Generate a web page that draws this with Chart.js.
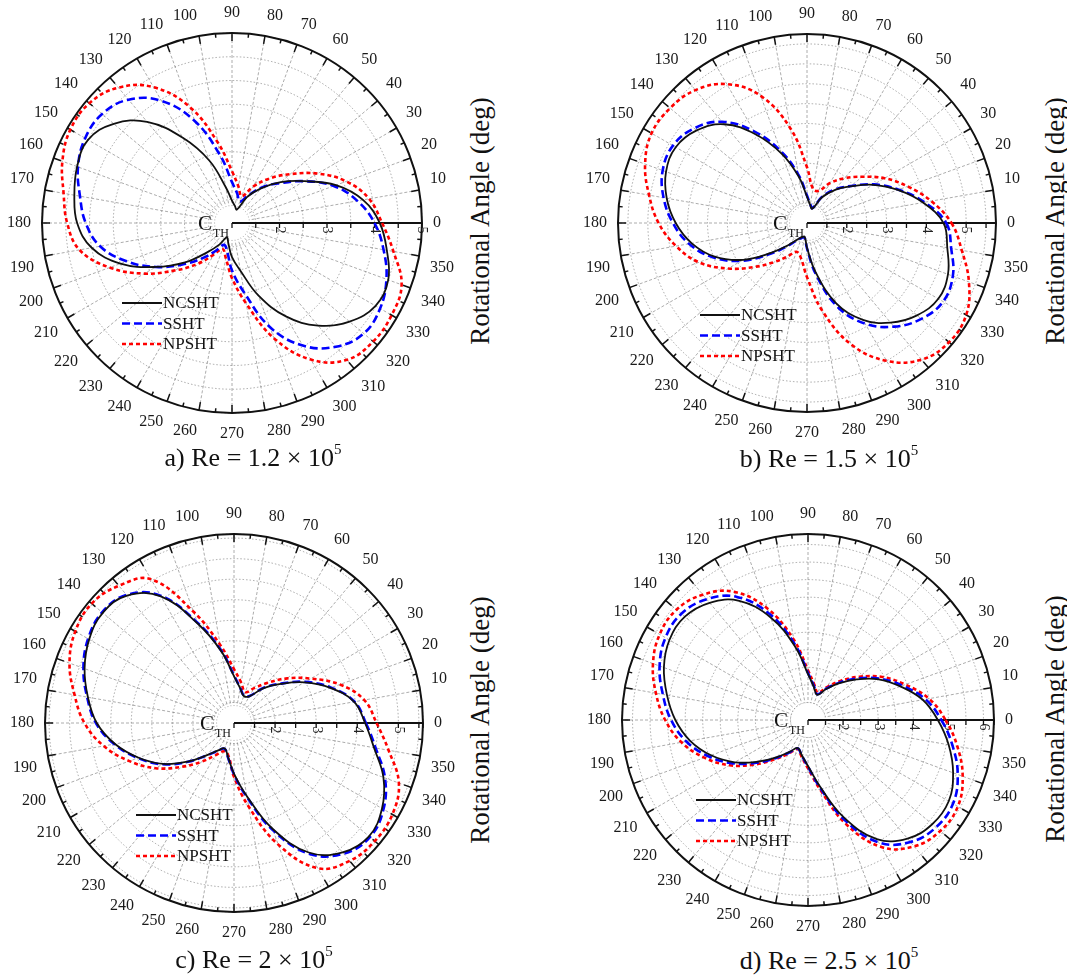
<!DOCTYPE html>
<html>
<head>
<meta charset="utf-8">
<title>Rotational angle polar plots</title>
<script src="https://cdn.jsdelivr.net/npm/chart.js@4.4.0/dist/chart.umd.min.js"></script>
<style>
  body { margin: 0; background: #fff; }
  #fig {
    position: relative;
    width: 1067px;
    height: 975px;
    overflow: hidden;
    font-family: 'Liberation Serif', 'Times New Roman', serif;
    color: #111;
  }
  .plot { position: absolute; }
  .plot canvas { display: block; }
  .caption {
    position: absolute;
    font-size: 26px;
    line-height: 1;
    white-space: nowrap;
    transform: translate(-50%, -50%);
  }
  .caption sup { font-size: 15px; vertical-align: 12px; line-height: 0; }
  .ytitle {
    position: absolute;
    font-size: 27px;
    line-height: 1;
    white-space: nowrap;
    transform: translate(-50%, -50%) rotate(-90deg);
  }
</style>
</head>
<body>
<div id="fig"></div>
<script>
// rotational angle (deg), one value every 10 degrees
const angles = [0, 10, 20, 30, 40, 50, 60, 70, 80, 90, 100, 110, 120, 130, 140, 150, 160, 170,
  180, 190, 200, 210, 220, 230, 240, 250, 260, 270, 280, 290, 300, 310, 320, 330, 340, 350];

// C_TH, Re = 1.2e5
const ncshtA = [4.11, 3.80, 3.33, 2.76, 2.34, 1.95, 1.63, 1.30, 1.36, 1.47, 1.77, 2.40, 3.07, 3.78, 4.25, 4.50, 4.47, 4.37,
  4.26, 4.00, 3.50, 2.85, 2.29, 1.80, 1.52, 1.32, 1.44, 1.72, 2.02, 2.62, 3.27, 3.82, 4.23, 4.49, 4.50, 4.31];
const sshtA = [4.00, 3.68, 3.28, 2.76, 2.30, 1.98, 1.66, 1.48, 1.63, 1.86, 2.45, 3.28, 3.97, 4.39, 4.57, 4.57, 4.45, 4.25,
  4.08, 3.82, 3.36, 2.85, 2.36, 1.97, 1.67, 1.49, 1.60, 2.00, 2.49, 3.33, 3.98, 4.40, 4.62, 4.60, 4.46, 4.24];
const npshtA = [4.16, 3.93, 3.56, 3.08, 2.60, 2.22, 1.88, 1.60, 1.78, 2.09, 2.72, 3.60, 4.30, 4.72, 4.92, 4.93, 4.80, 4.60,
  4.47, 4.26, 3.74, 3.13, 2.55, 2.12, 1.77, 1.58, 1.75, 2.16, 2.72, 3.58, 4.32, 4.76, 4.88, 4.88, 4.80, 4.45];

// C_TH, Re = 1.5e5
const ncshtB = [4.43, 3.96, 3.43, 2.92, 2.43, 2.08, 1.74, 1.38, 1.46, 1.66, 2.18, 2.85, 3.57, 4.24, 4.62, 4.81, 4.77, 4.58,
  4.30, 3.94, 3.47, 2.85, 2.16, 1.72, 1.48, 1.38, 1.35, 1.62, 2.26, 3.15, 3.81, 4.27, 4.61, 4.81, 4.77, 4.58];
const sshtB = [4.50, 4.00, 3.45, 2.94, 2.45, 2.10, 1.76, 1.40, 1.48, 1.69, 2.23, 2.92, 3.66, 4.32, 4.70, 4.89, 4.86, 4.66,
  4.37, 4.01, 3.52, 2.90, 2.20, 1.75, 1.50, 1.40, 1.37, 1.64, 2.32, 3.24, 3.92, 4.40, 4.75, 4.95, 4.90, 4.68];
const npshtB = [4.63, 4.17, 3.69, 3.25, 2.81, 2.47, 2.16, 1.86, 1.87, 2.40, 3.42, 4.40, 5.03, 5.36, 5.49, 5.51, 5.33, 5.03,
  4.73, 4.34, 3.89, 3.29, 2.72, 2.28, 1.97, 1.77, 1.89, 2.36, 3.25, 4.25, 5.00, 5.48, 5.66, 5.62, 5.33, 4.95];

// C_TH, Re = 2e5
const ncshtC = [4.19, 3.97, 3.50, 2.98, 2.48, 2.10, 1.75, 1.70, 1.86, 2.14, 2.77, 3.57, 4.56, 5.05, 5.17, 5.07, 4.87, 4.61,
  4.34, 3.94, 3.47, 2.99, 2.46, 2.02, 1.77, 1.66, 1.84, 2.23, 2.81, 3.74, 4.64, 5.11, 5.29, 5.16, 4.87, 4.46];
const sshtC = [4.21, 3.98, 3.52, 3.00, 2.49, 2.11, 1.76, 1.71, 1.87, 2.16, 2.79, 3.60, 4.58, 5.07, 5.19, 5.10, 4.90, 4.63,
  4.36, 3.96, 3.49, 3.01, 2.47, 2.03, 1.78, 1.67, 1.85, 2.25, 2.84, 3.78, 4.68, 5.15, 5.32, 5.20, 4.91, 4.50];
const npshtC = [4.47, 4.22, 3.74, 3.16, 2.69, 2.28, 1.98, 1.80, 2.00, 2.31, 2.93, 3.88, 5.04, 5.36, 5.52, 5.46, 5.26, 4.94,
  4.64, 4.22, 3.71, 3.20, 2.66, 2.23, 1.91, 1.73, 1.80, 2.31, 3.07, 4.15, 5.08, 5.38, 5.47, 5.45, 5.27, 4.82];

// C_TH, Re = 2.5e5
const ncshtD = [4.70, 4.32, 3.80, 3.32, 2.80, 2.36, 2.01, 1.76, 1.96, 2.31, 3.13, 4.11, 4.92, 5.36, 5.58, 5.56, 5.37, 5.08,
  4.78, 4.41, 3.94, 3.41, 2.84, 2.38, 2.05, 1.85, 2.02, 2.31, 2.91, 3.94, 4.92, 5.41, 5.62, 5.63, 5.40, 5.07];
const sshtD = [4.80, 4.40, 3.86, 3.36, 2.84, 2.39, 2.03, 1.78, 1.98, 2.34, 3.20, 4.22, 5.05, 5.49, 5.71, 5.69, 5.50, 5.20,
  4.90, 4.52, 4.02, 3.47, 2.89, 2.41, 2.07, 1.86, 2.03, 2.33, 2.95, 4.02, 5.03, 5.54, 5.76, 5.77, 5.54, 5.18];
const npshtD = [4.92, 4.50, 3.95, 3.45, 2.92, 2.46, 2.08, 1.83, 2.03, 2.42, 3.32, 4.38, 5.22, 5.66, 5.89, 5.88, 5.70, 5.40,
  5.07, 4.66, 4.14, 3.58, 2.97, 2.46, 2.11, 1.88, 2.06, 2.38, 3.02, 4.15, 5.18, 5.70, 5.92, 5.93, 5.69, 5.32];

const seriesNames = ['NCSHT', 'SSHT', 'NPSHT'];
const lineColors = ['#111111', '#0000ff', '#ff0000'];
const lineWidths = [1.8, 2.6, 2.6];
const lineDashes = [[], [8, 4], [4, 3]];

const FONT = "'Liberation Serif', 'Times New Roman', serif";
Chart.defaults.font.family = FONT;
Chart.defaults.color = '#1a1a1a';

const panels = [
  { tag: 'a', re: '1.2', series: [ncshtA, sshtA, npshtA], rMax: 5,    cx: 232, cy: 223, radius: 190, legend: [-110, 80], caption: [253, 458], title: [480, 221] },
  { tag: 'b', re: '1.5', series: [ncshtB, sshtB, npshtB], rMax: 5.75, cx: 807, cy: 223, radius: 189, legend: [-107, 92], caption: [829, 459], title: [1055, 221] },
  { tag: 'c', re: '2',   series: [ncshtC, sshtC, npshtC], rMax: 5.6,  cx: 234, cy: 723, radius: 189, legend: [-98, 92],  caption: [254, 960], title: [480, 720] },
  { tag: 'd', re: '2.5', series: [ncshtD, sshtD, npshtD], rMax: 6.3,  cx: 808, cy: 720, radius: 186, legend: [-112, 80], caption: [829, 961], title: [1055, 719] },
];

// radar spokes go clockwise from 3 o'clock: 0, 350, 340, ... 10
const spokeOrder = angles.map((_, i) => (angles.length - i) % angles.length);

// outer ring with ticks, 0-degree value axis, hub, C_TH mark and legend
const polarFrame = {
  id: 'polarFrame',
  beforeDatasetsDraw(chart) {
    const s = chart.scales.r;
    const ctx = chart.ctx;
    const cx = s.xCenter, cy = s.yCenter, R = s.drawingArea;
    ctx.save();
    ctx.fillStyle = '#fff';
    ctx.beginPath();
    ctx.arc(cx, cy, 17, 0, Math.PI * 2);
    ctx.fill();

    ctx.strokeStyle = '#111';
    ctx.lineWidth = 2;
    ctx.beginPath();
    ctx.arc(cx, cy, R, 0, Math.PI * 2);
    ctx.stroke();

    ctx.lineWidth = 1.5;
    for (let a = 0; a < 360; a += 5) {
      const len = a % 10 === 0 ? 8 : 4;
      const t = a * Math.PI / 180;
      ctx.beginPath();
      ctx.moveTo(cx + R * Math.cos(t), cy - R * Math.sin(t));
      ctx.lineTo(cx + (R - len) * Math.cos(t), cy - (R - len) * Math.sin(t));
      ctx.stroke();
    }

    ctx.lineWidth = 1.8;
    ctx.beginPath();
    ctx.moveTo(cx, cy);
    ctx.lineTo(cx + R, cy);
    ctx.stroke();
    ctx.lineWidth = 1.3;
    s.ticks.forEach(t => {
      const x = cx + s.getDistanceFromCenterForValue(t.value);
      ctx.beginPath();
      ctx.moveTo(x, cy);
      ctx.lineTo(x, cy + 5);
      ctx.stroke();
    });
    ctx.restore();
  },
  afterDraw(chart, args, opts) {
    const s = chart.scales.r;
    const ctx = chart.ctx;
    const cx = s.xCenter, cy = s.yCenter;
    ctx.save();
    ctx.fillStyle = '#111';
    ctx.textBaseline = 'alphabetic';
    ctx.font = '21px ' + FONT;
    ctx.textAlign = 'right';
    ctx.fillText('C', cx - 20, cy + 7);
    ctx.font = '12px ' + FONT;
    ctx.textAlign = 'left';
    ctx.fillText('TH', cx - 19, cy + 14);

    const [lx, ly] = opts.legend;
    ctx.font = '17px ' + FONT;
    ctx.textBaseline = 'middle';
    chart.data.datasets.forEach((ds, k) => {
      const y = cy + ly + k * 20.5;
      ctx.strokeStyle = ds.borderColor;
      ctx.lineWidth = ds.borderWidth;
      ctx.setLineDash(ds.borderDash);
      ctx.beginPath();
      ctx.moveTo(cx + lx, y);
      ctx.lineTo(cx + lx + 40, y);
      ctx.stroke();
      ctx.fillStyle = '#111';
      ctx.fillText(ds.label, cx + lx + 41, y + 1);
    });
    ctx.restore();
  }
};

function chartConfig(p) {
  return {
    type: 'radar',
    data: {
      labels: spokeOrder.map(i => String(angles[i])),
      datasets: seriesNames.map((name, k) => ({
        label: name,
        data: spokeOrder.map(i => p.series[k][i]),
        borderColor: lineColors[k],
        borderWidth: lineWidths[k],
        borderDash: lineDashes[k],
        pointRadius: 0,
        fill: false,
        tension: 0.4,
      })),
    },
    options: {
      responsive: false,
      animation: false,
      events: [],
      plugins: {
        legend: { display: false },
        tooltip: { enabled: false },
        polarFrame: { legend: p.legend },
      },
      scales: {
        r: {
          startAngle: 90,
          min: 1,
          max: p.rMax,
          bounds: 'data',
          grid: { circular: true, color: 'rgba(95,95,95,0.75)', lineWidth: 0.7 },
          border: { dash: [1.5, 2] },
          angleLines: { color: 'rgba(95,95,95,0.75)', lineWidth: 0.7, borderDash: [3, 2] },
          ticks: {
            stepSize: 0.5,
            includeBounds: false,
            maxTicksLimit: 40,
            showLabelBackdrop: false,
            backdropPadding: 0,
            color: '#222',
            font: { size: 14 },
            callback: v => Number.isInteger(v) ? '\u2007\u2007' + v : '',
          },
          pointLabels: { font: { size: 16 }, color: '#1a1a1a', padding: 4 },
        },
      },
    },
    plugins: [polarFrame],
  };
}

const fig = document.getElementById('fig');

panels.forEach(p => {
  const wrap = document.createElement('div');
  wrap.className = 'plot';
  const canvas = document.createElement('canvas');
  wrap.appendChild(canvas);
  fig.appendChild(wrap);

  // grow or shrink the canvas until the polar area has the wanted radius
  let w = 2 * p.radius + 52, h = 2 * p.radius + 56;
  let chart;
  for (let pass = 0; pass < 4; pass++) {
    canvas.width = w;
    canvas.height = h;
    canvas.style.width = w + 'px';
    canvas.style.height = h + 'px';
    chart = new Chart(canvas, chartConfig(p));
    const diff = p.radius - chart.scales.r.drawingArea;
    if (Math.abs(diff) < 1 || pass === 3) break;
    chart.destroy();
    w += 2 * diff;
    h += 2 * diff;
  }
  const s = chart.scales.r;
  wrap.style.left = (p.cx - s.xCenter) + 'px';
  wrap.style.top = (p.cy - s.yCenter) + 'px';

  const cap = document.createElement('div');
  cap.className = 'caption';
  cap.style.left = p.caption[0] + 'px';
  cap.style.top = p.caption[1] + 'px';
  cap.innerHTML = p.tag + ') Re = ' + p.re + ' \u00d7 10<sup>5</sup>';
  fig.appendChild(cap);

  const ttl = document.createElement('div');
  ttl.className = 'ytitle';
  ttl.style.left = p.title[0] + 'px';
  ttl.style.top = p.title[1] + 'px';
  ttl.textContent = 'Rotational Angle (deg)';
  fig.appendChild(ttl);
});
</script>
</body>
</html>
